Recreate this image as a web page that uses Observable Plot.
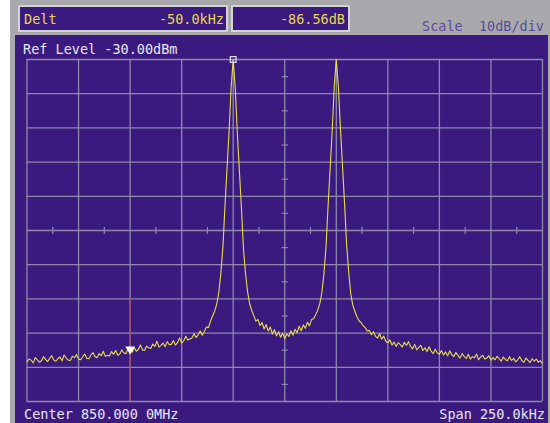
<!DOCTYPE html>
<html><head><meta charset="utf-8">
<script src="https://cdn.jsdelivr.net/npm/d3@7"></script>
<script src="https://cdn.jsdelivr.net/npm/@observablehq/plot@0.6"></script>
<style>
html,body{margin:0;padding:0;background:#fff;}
#wrap{position:relative;width:550px;height:423px;overflow:hidden;font-family:"DejaVu Sans Mono","Liberation Mono",monospace;font-size:13.5px;}
.abs{position:absolute;white-space:pre;line-height:14px;}
.box{position:absolute;background:#3b1a80;border:2px solid #d4d4d8;box-sizing:border-box;}
</style></head><body>
<div id="wrap">
  <div class="abs" style="left:10px;top:0;width:540px;height:423px;background:#a9a9ad"></div>
  <div class="abs" style="left:15px;top:35px;width:533px;height:388px;background:#3b1a80"></div>
  <div class="box" style="left:18px;top:5px;width:210px;height:27px"></div>
  <div class="box" style="left:231px;top:5px;width:119px;height:27px"></div>
  <div id="chart" class="abs" style="left:0;top:0"></div>
  <div id="labels"></div>
</div>
<script>
// ---- data ----
const headerLabel = "Delt";
const headerDeltaFreq = "-50.0kHz";
const headerDeltaLevel = "-86.56dB";
const scaleLabel = "Scale  10dB/div";
const refLabel = "Ref Level -30.00dBm";
const centerLabel = "Center 850.000 0MHz";
const spanLabel = "Span 250.0kHz";

// sweep: frequency offset from centre, kHz
const sweepStartKHz = -125;
const sweepStepKHz = 1;
// trace levels, dBm (one per kHz from -125 to +125)
const levels = [
  -118.4,-117.6,-117.9,-118.7,-117.2,-117.8,-118.5,-118.1,-116.9,-117.7,
  -118.3,-117.4,-116.6,-117.9,-118.2,-117.5,-117.0,-118.1,-116.4,-117.3,
  -117.9,-118.0,-116.8,-117.2,-116.3,-117.6,-117.8,-116.9,-116.1,-117.4,
  -117.5,-116.4,-115.7,-116.9,-117.2,-116.0,-116.6,-115.3,-116.8,-116.5,
  -116.7,-115.4,-116.2,-115.1,-116.5,-116.1,-114.9,-115.8,-116.0,-114.6,
  -115.0,-115.6,-114.2,-115.3,-114.8,-113.5,-114.9,-115.1,-113.8,-114.3,
  -114.5,-113.2,-113.9,-112.4,-114.1,-113.6,-112.9,-114.0,-112.5,-113.4,
  -113.3,-112.2,-113.5,-112.8,-111.4,-112.9,-112.3,-110.9,-112.0,-111.7,
  -111.4,-110.2,-111.3,-110.5,-109.4,-110.6,-109.5,-108.2,-108.4,-106.5,
  -105.0,-103.6,-101.6,-98.2,-92.6,-85.0,-73.0,-62.0,-51.0,-38.0,
  -30.0,-38.5,-51.5,-62.5,-73.5,-85.5,-92.8,-98.0,-101.5,-103.4,
  -104.9,-106.5,-106.0,-107.8,-106.9,-108.8,-107.5,-109.4,-108.2,-110.3,
  -109.0,-110.8,-109.6,-111.2,-110.0,
  -111.6,
  -110.2,-111.0,-109.3,-110.6,-108.9,-109.9,-108.0,-109.3,-107.6,-108.6,
  -106.8,-107.9,-106.0,-105.8,-104.6,-103.3,-101.4,-98.2,-92.6,-85.0,
  -73.0,-62.0,-51.0,-38.0,-30.0,-38.0,-50.0,-61.0,-72.0,-84.0,
  -92.0,-98.5,-101.8,-103.6,-105.2,-106.4,-106.9,-107.8,-108.4,-109.4,
  -109.2,-110.5,-109.6,-110.9,-111.5,-110.1,-111.8,-110.9,-112.4,-112.8,
  -112.0,-113.5,-112.6,-113.9,-112.8,-113.4,-114.1,-112.7,-113.6,-112.5,
  -113.9,-114.6,-113.3,-114.9,-114.2,-113.6,-115.1,-114.3,-115.4,-114.0,
  -115.3,-116.0,-114.7,-115.8,-116.2,-115.1,-116.4,-115.5,-116.6,-115.2,
  -116.3,-116.9,-115.7,-116.5,-117.3,-116.0,-116.8,-117.4,-116.2,-117.6,
  -116.9,-117.2,-116.1,-117.8,-117.0,-116.5,-117.6,-117.3,-116.6,-117.9,
  -117.2,-117.8,-116.8,-117.5,-118.2,-117.0,-117.7,-118.1,-116.9,-118.0,
  -117.4,-118.4,-117.8,-116.9,-118.1,-118.5,-117.3,-118.0,-118.6,-117.5,
  -118.2,-117.6,-118.5,-118.1,-118.9
];
const gridFreq = [-125,-100,-75,-50,-25,0,25,50,75,100,125];
const gridLevel = [-30,-40,-50,-60,-70,-80,-90,-100,-110,-120,-130];
const minorFreq = [-112.5,-87.5,-62.5,-37.5,-12.5,12.5,37.5,62.5,87.5,112.5];
const minorLevel = [-35,-45,-55,-65,-75,-85,-95,-105,-115,-125];
const markerFreq = [-25, -75];
const markerLevel = [-30, -115];
const markerLineFreq = [-75];

// ---- build ----
const trace = levels.map((v, i) => ({f: sweepStartKHz + i * sweepStepKHz, dbm: v}));
const gridCol = "#8e88aa";
const chart = Plot.plot({
  width: 550, height: 423,
  marginLeft: 26.5, marginRight: 8, marginTop: 59, marginBottom: 22,
  style: {background: "transparent", overflow: "visible"},
  x: {domain: [-125, 125], axis: null},
  y: {domain: [-130, -30], axis: null},
  marks: [
    Plot.ruleX(gridFreq, {stroke: gridCol, strokeWidth: 1.3}),
    Plot.ruleY(gridLevel, {stroke: gridCol, strokeWidth: 1.3}),
    Plot.ruleX(markerLineFreq, {y1: -130, y2: -100, stroke: "#a8445e", strokeWidth: 1.2}),
    Plot.link(minorLevel, {x1: -1.5, x2: 1.5, y1: d => d, y2: d => d, stroke: gridCol, strokeWidth: 1.2}),
    Plot.link(minorFreq, {x1: d => d, x2: d => d, y1: -79, y2: -81, stroke: gridCol, strokeWidth: 1.2}),
    Plot.line(trace, {x: "f", y: "dbm", stroke: "#e8de44", strokeWidth: 1.1}),
    Plot.dot([0], {x: markerFreq[0], y: markerLevel[0], symbol: "square", r: 3.2, stroke: "#dcd6f0", strokeWidth: 1.3, fill: "none"}),
    Plot.dot([0], {x: markerFreq[1], y: markerLevel[1], symbol: "triangle", rotate: 180, r: 3.6, fill: "#ffffff", stroke: "none", dy: -1})
  ]
});
document.getElementById("chart").appendChild(chart);

const labels = [
  {t: headerLabel, left: 24, top: 12, color: "#e6d84a"},
  {t: headerDeltaFreq, right: 550 - 224, top: 12, color: "#e6d84a"},
  {t: headerDeltaLevel, right: 550 - 345, top: 12, color: "#e6d84a"},
  {t: scaleLabel, left: 422, top: 19, color: "#5a4c9c"},
  {t: refLabel, left: 23, top: 42, color: "#e8e6f2"},
  {t: centerLabel, left: 24, top: 407, color: "#e8e6f2"},
  {t: spanLabel, right: 550 - 545, top: 407, color: "#e8e6f2"}
];
const host = document.getElementById("labels");
for (const l of labels) {
  const d = document.createElement("div");
  d.className = "abs";
  d.textContent = l.t;
  d.style.top = l.top + "px";
  if (l.left != null) d.style.left = l.left + "px"; else d.style.right = l.right + "px";
  d.style.color = l.color;
  host.appendChild(d);
}
</script>
</body></html>
